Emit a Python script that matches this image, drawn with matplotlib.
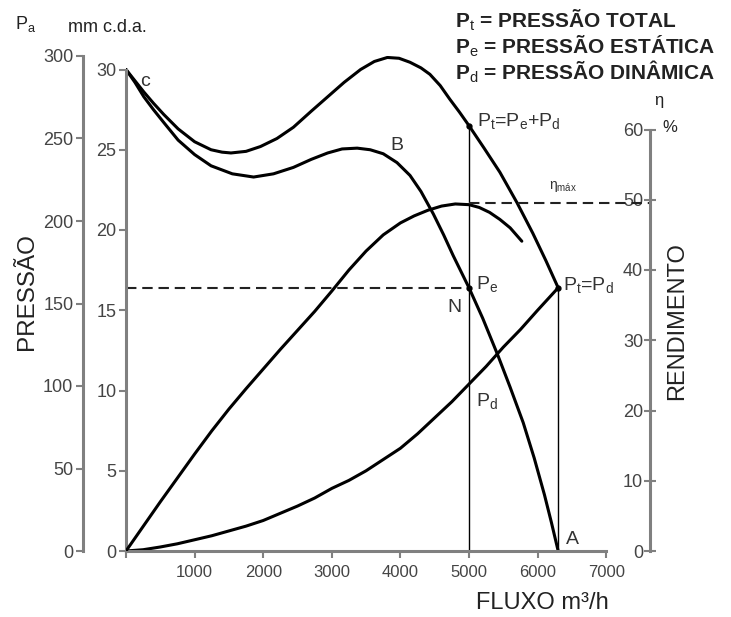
import matplotlib
matplotlib.use('Agg')
import matplotlib.pyplot as plt

plt.rcParams['font.family'] = ['Liberation Sans', 'DejaVu Sans']
plt.rcParams['mathtext.fontset'] = 'custom'
plt.rcParams['mathtext.rm'] = 'Liberation Sans'
plt.rcParams['mathtext.it'] = 'Liberation Sans:italic'
plt.rcParams['mathtext.bf'] = 'Liberation Sans:bold'

# --- curves (flow in m3/h, pressure in mm c.d.a.) ---
flow_total = [0, 130, 260, 400, 550, 760, 1000, 1240, 1400, 1530, 1750, 1960, 2200, 2440,
              2700, 2940, 3180, 3420, 3620, 3810, 3980, 4140, 4300, 4430, 4580, 4720,
              4860, 5000, 5220, 5450, 5700, 5930, 6120, 6300]
total_pressure = [30.0, 29.3, 28.6, 27.9, 27.2, 26.3, 25.5, 25.0, 24.85, 24.8, 24.9, 25.2,
                  25.7, 26.4, 27.4, 28.3, 29.2, 30.0, 30.5, 30.75, 30.7, 30.45, 30.1, 29.7,
                  29.0, 28.15, 27.35, 26.5, 25.1, 23.6, 21.7, 19.8, 18.1, 16.4]

flow_static = [0, 130, 260, 400, 550, 760, 1000, 1240, 1550, 1860, 2150, 2440, 2700, 2940,
               3150, 3370, 3560, 3750, 3950, 4140, 4300, 4480, 4630, 4770, 5000, 5200,
               5420, 5600, 5790, 5950, 6100, 6200, 6300]
static_pressure = [30.0, 29.2, 28.3, 27.5, 26.7, 25.6, 24.7, 24.0, 23.5, 23.3, 23.5, 23.9,
                   24.4, 24.8, 25.05, 25.1, 25.0, 24.75, 24.2, 23.4, 22.4, 21.0, 19.7, 18.4,
                   16.4, 14.5, 12.2, 10.2, 8.0, 5.8, 3.5, 1.8, 0.0]

flow_dynamic = [0, 250, 500, 750, 1000, 1250, 1500, 1750, 2000, 2250, 2500, 2750, 3000,
                3250, 3500, 3750, 4000, 4250, 4500, 4750, 5000, 5250, 5500, 5750, 6000, 6300]
dynamic_pressure = [0.0, 0.08, 0.25, 0.45, 0.7, 0.95, 1.25, 1.55, 1.9, 2.35, 2.8, 3.3, 3.9,
                    4.4, 5.0, 5.7, 6.4, 7.3, 8.3, 9.3, 10.4, 11.5, 12.7, 13.8, 15.0, 16.4]

flow_eff = [0, 250, 500, 750, 1000, 1250, 1500, 1750, 2000, 2250, 2500, 2750, 3000, 3250,
            3500, 3750, 4000, 4200, 4400, 4600, 4800, 5000, 5150, 5300, 5450, 5600, 5770]
efficiency = [0.0, 3.5, 7.0, 10.4, 13.8, 17.1, 20.2, 23.1, 25.9, 28.7, 31.4, 34.1, 37.0,
              40.0, 42.7, 45.0, 46.7, 47.7, 48.5, 49.1, 49.4, 49.3, 48.9, 48.2, 47.2, 46.0,
              44.1]

x_ticks = [0, 1000, 2000, 3000, 4000, 5000, 6000, 7000]
x_tick_labels = ['', '1000', '2000', '3000', '4000', '5000', '6000', '7000']
inner_ticks = [0, 5, 10, 15, 20, 25, 30]
outer_ticks = [0, 50, 100, 150, 200, 250, 300]
eff_ticks = [0, 10, 20, 30, 40, 50, 60]

q_nominal = 5000
q_shutoff = 6300
p_static_nominal = 16.4
p_total_nominal = 26.5
p_total_shutoff = 16.4
eta_max = 49.5

W, H = 731, 617
fig = plt.figure(figsize=(W / 100, H / 100), dpi=100)


def fx(px):
    return px / W


def fy(py):
    return 1 - py / H


spine_col = '#808080'
tick_col = '#444444'
text_col = '#333333'
curve_lw = 2.2
dash_style = (5, 2.8)

# main axes: inner pressure scale (0-30) on the left spine, flow on the bottom
ax = fig.add_axes([fx(126), fy(551), (650 - 126) / W, (551 - 56) / H])
x_right = (650 - 126) / 68.6 * 1000
ax.set_xlim(0, x_right)
ax.set_ylim(0, 495 / 16.05)
for s in ['top', 'right']:
    ax.spines[s].set_visible(False)
for s in ['left', 'bottom']:
    ax.spines[s].set_color(spine_col)
    ax.spines[s].set_linewidth(2.2)
ax.spines['left'].set_bounds(0, 30)
ax.spines['bottom'].set_bounds(0, 7000)
ax.set_xticks(x_ticks)
ax.set_xticklabels(x_tick_labels)
ax.set_yticks(inner_ticks)
ax.tick_params(axis='both', colors=spine_col, labelcolor=tick_col,
               length=5, width=1.5, direction='out')
ax.tick_params(axis='x', labelsize=12, pad=5)
ax.tick_params(axis='y', labelsize=13, pad=2)

ax.plot(flow_total, total_pressure, color='black', lw=curve_lw, solid_capstyle='round')
ax.plot(flow_static, static_pressure, color='black', lw=curve_lw, solid_capstyle='round')
ax.plot(flow_dynamic, dynamic_pressure, color='black', lw=curve_lw, solid_capstyle='round')

# operating point guides
ax.plot([q_nominal, q_nominal], [0, p_total_nominal], color='black', lw=1.0)
ax.plot([q_shutoff, q_shutoff], [0, p_total_shutoff], color='black', lw=1.0)
ax.plot([0, q_nominal], [p_static_nominal, p_static_nominal], color='#222222', lw=1.5,
        dashes=dash_style)
ax.plot([q_nominal, q_nominal, q_shutoff], [p_total_nominal, p_static_nominal, p_total_shutoff],
        'o', color='black', ms=3.5)

# outer pressure scale (0-300)
ax_out = ax.twinx()
ax_out.set_ylim(0, 300)
for s in ['top', 'right', 'bottom']:
    ax_out.spines[s].set_visible(False)
ax_out.spines['left'].set_visible(True)
ax_out.spines['left'].set_position(('axes', (83 - 126) / 524))
ax_out.spines['left'].set_color(spine_col)
ax_out.spines['left'].set_linewidth(2.2)
ax_out.spines['left'].set_bounds(0, 300)
ax_out.yaxis.set_ticks_position('left')
ax_out.set_yticks(outer_ticks)
ax_out.tick_params(axis='y', colors=spine_col, labelcolor=tick_col, labelsize=13,
                   length=5, width=1.5, direction='out', pad=2)

# efficiency scale (0-60 %) on the right
ax_eff = ax.twinx()
ax_eff.set_ylim(0, 60 * 495 / 421.5)
for s in ['top', 'right', 'bottom']:
    ax_eff.spines[s].set_visible(False)
ax_eff.spines['left'].set_visible(True)
ax_eff.spines['left'].set_position(('axes', 1.0))
ax_eff.spines['left'].set_color(spine_col)
ax_eff.spines['left'].set_linewidth(2.2)
ax_eff.spines['left'].set_bounds(0, 60)
ax_eff.yaxis.set_ticks_position('left')
ax_eff.set_yticks(eff_ticks)
ax_eff.tick_params(axis='y', colors=spine_col, labelcolor=tick_col, labelsize=13,
                   length=8, width=1.5, direction='inout', pad=1)
ax_eff.plot(flow_eff, efficiency, color='black', lw=curve_lw, solid_capstyle='round')
ax_eff.plot([q_nominal, x_right], [eta_max, eta_max], color='#222222', lw=1.5,
            dashes=dash_style)

# axis titles
fig.text(fx(27), fy(292), 'PRESSÃO', rotation=90, ha='center', va='center',
         fontsize=17.5, color='#222222')
fig.text(fx(677), fy(321), 'RENDIMENTO', rotation=90, ha='center', va='center',
         fontsize=17, color='#222222')
fig.text(fx(542), fy(603), 'FLUXO m³/h', ha='center', va='center', fontsize=17,
         color='#222222')
fig.text(fx(15), fy(24), r'P$_\mathrm{a}$', ha='left', va='center', fontsize=13,
         color='#222222')
fig.text(fx(68), fy(27), 'mm c.d.a.', ha='left', va='center', fontsize=13,
         color='#222222')
fig.text(fx(659), fy(101), 'η', ha='center', va='center', fontsize=12, color='#222222')
fig.text(fx(670), fy(127), '%', ha='center', va='center', fontsize=12, color='#222222')

# legend block
legend_lines = [r'$\mathbf{P}_\mathrm{t}$ = PRESSÃO TOTAL',
                r'$\mathbf{P}_\mathrm{e}$ = PRESSÃO ESTÁTICA',
                r'$\mathbf{P}_\mathrm{d}$ = PRESSÃO DINÂMICA']
for i, line in enumerate(legend_lines):
    fig.text(fx(455), fy(20 + 26 * i), line, ha='left', va='center', fontsize=15,
             fontweight='bold', color='#222222')

# point labels
lbl = dict(color=text_col, fontsize=14, va='center')
fig.text(fx(140), fy(82), 'c', ha='left', **lbl)
fig.text(fx(390), fy(146), 'B', ha='left', **lbl)
fig.text(fx(447), fy(307), 'N', ha='left', **lbl)
fig.text(fx(566), fy(540), 'A', ha='left', **lbl)
fig.text(fx(476), fy(284), r'P$_\mathrm{e}$', ha='left', **lbl)
fig.text(fx(476), fy(401), r'P$_\mathrm{d}$', ha='left', **lbl)
fig.text(fx(477), fy(121), r'P$_\mathrm{t}$=P$_\mathrm{e}$+P$_\mathrm{d}$', ha='left', **lbl)
fig.text(fx(563), fy(285), r'P$_\mathrm{t}$=P$_\mathrm{d}$', ha='left', **lbl)
fig.text(fx(549), fy(186), r'η$_\mathrm{máx}$', ha='left', color=text_col, fontsize=10,
         va='center')

fig.savefig('out.png', dpi=100)
